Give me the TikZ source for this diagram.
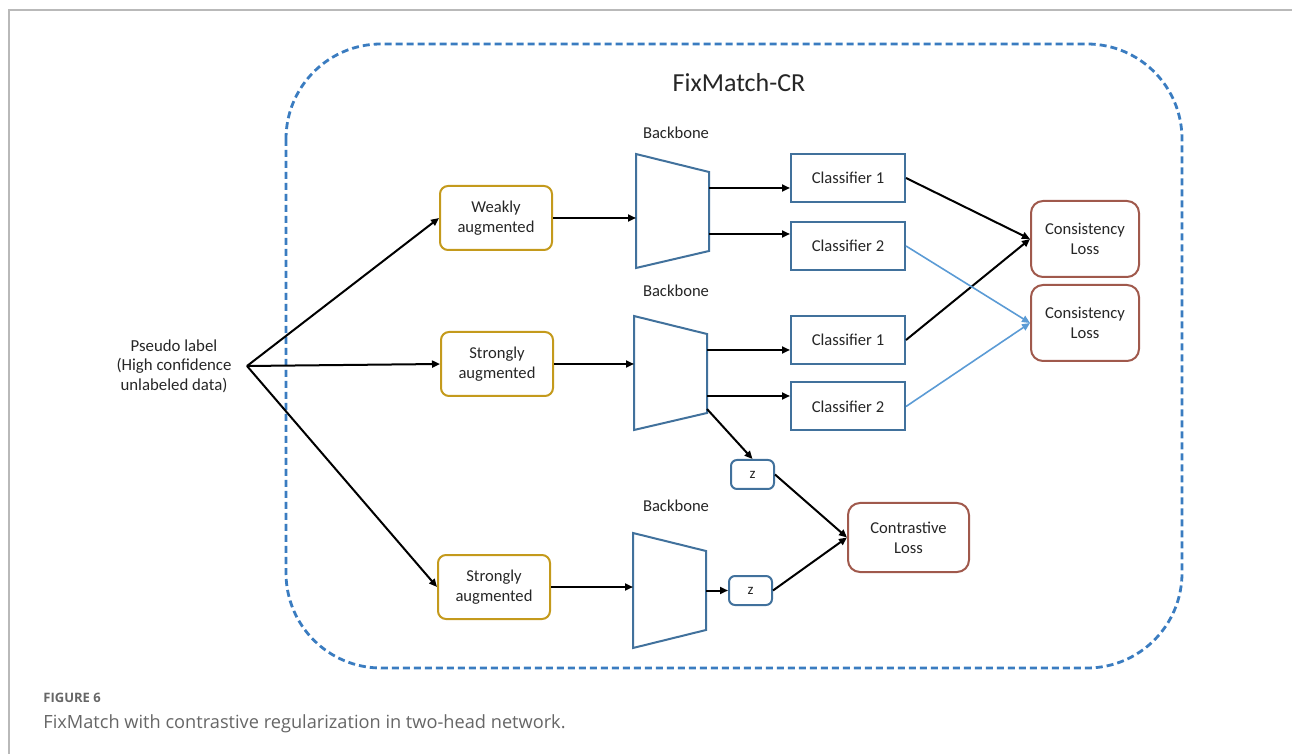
\documentclass[tikz,border=0pt]{standalone}
\usepackage{fontspec}
\setmainfont{Carlito}
\newfontfamily\capfont{Open Sans}
\usetikzlibrary{arrows.meta}
\definecolor{dashblue}{HTML}{3A7CC0}
\definecolor{boxblue}{HTML}{41719C}
\definecolor{augold}{HTML}{C49A1C}
\definecolor{lossbrown}{HTML}{A0594C}
\definecolor{arrblue}{HTML}{5B9BD5}
\definecolor{capgray}{HTML}{666666}

\begin{document}
\begin{tikzpicture}[x=0.5pt,y=-0.5pt,
  txt/.style={font=\fontsize{8.3}{10}\selectfont,align=center,text=black!85},
  augbox/.style={txt,draw=augold,line width=1pt,rounded corners=4pt,minimum width=56pt,minimum height=32pt,inner sep=0pt},
  clsbox/.style={txt,draw=boxblue,line width=1pt,minimum width=57pt,minimum height=24pt,inner sep=0pt},
  lossbox/.style={txt,draw=lossbrown,line width=1pt,rounded corners=6pt,minimum width=54pt,minimum height=38pt,inner sep=0pt},
  zbox/.style={txt,draw=boxblue,line width=1pt,rounded corners=3pt,minimum width=21.5pt,minimum height=14.5pt,inner sep=0pt,font=\fontsize{7.5}{8}\selectfont},
  bbone/.style={draw=boxblue,line width=1pt},
  arr/.style={-{Triangle[length=4pt,width=3.5pt]},line width=1pt,black},
  barr/.style={-{Triangle[length=4pt,width=3.5pt]},line width=0.8pt,arrblue}]
  \useasboundingbox (0,0) rectangle (1292,754);
  \draw [gray!55, line width=0.7pt] (9,754) -- (9,10) -- (1292,10);
  \draw [dashblue, line width=1.4pt, dash pattern=on 3.5pt off 2pt, rounded corners=47.5pt] (286,44) rectangle (1182,668);
  \node (ttl) at (739,83)[font=\fontsize{13}{15}\selectfont,text=black!85]{FixMatch-CR};

  \node (pl) at (174,366)[txt,font=\fontsize{8.4}{9.8}\selectfont]{Pseudo label\\(High confidence\\unlabeled data)};
  \coordinate (src) at (247,366);

  \node (w1) at (496,218)[augbox]{Weakly\\augmented};
  \node (s1) at (497,364)[augbox]{Strongly\\augmented};
  \node (s2) at (494,587)[augbox]{Strongly\\augmented};

  \draw [bbone] (636,154) -- (709,172) -- (709,251) -- (636,268) -- cycle;
  \draw [bbone] (634,316) -- (707,334) -- (707,413) -- (634,430) -- cycle;
  \draw [bbone] (633,533) -- (706,551) -- (706,630) -- (633,648) -- cycle;
  \node (bl1) at (676,133)[txt]{Backbone};
  \node (bl2) at (676,291)[txt]{Backbone};
  \node (bl3) at (676,506)[txt]{Backbone};
  \coordinate (bb1in) at (636,218);
  \coordinate (bb1o1) at (709,188);
  \coordinate (bb1o2) at (709,234);
  \coordinate (bb2in) at (634,364);
  \coordinate (bb2o1) at (707,350);
  \coordinate (bb2o2) at (707,396);
  \coordinate (bb2o3) at (707,409);
  \coordinate (bb3in) at (633,587);
  \coordinate (bb3out) at (706,590.5);

  \node (c1a) at (848,178)[clsbox]{Classifier 1};
  \node (c2a) at (848,246)[clsbox]{Classifier 2};
  \node (c1b) at (848,340)[clsbox]{Classifier 1};
  \node (c2b) at (848,406.5)[clsbox]{Classifier 2};
  \node (cl1) at (1085,239)[lossbox]{Consistency\\Loss};
  \node (cl2) at (1085,323)[lossbox]{Consistency\\Loss};
  \node (z1) at (752.5,474.5)[zbox]{z};
  \node (z2) at (750.5,590.5)[zbox]{z};
  \node (con) at (908.5,537.5)[lossbox,minimum width=60.5pt,minimum height=34.5pt]{Contrastive\\Loss};

  \draw [arr] (src) -- (w1.west);
  \draw [arr] (src) -- (s1.west);
  \draw [arr] (src) -- (s2.west);
  \draw [arr] (w1.east) -- (bb1in);
  \draw [arr] (s1.east) -- (bb2in);
  \draw [arr] (s2.east) -- (bb3in);
  \draw [arr] (bb1o1) -- (bb1o1 -| c1a.west);
  \draw [arr] (bb1o2) -- (bb1o2 -| c2a.west);
  \draw [arr] (bb2o1) -- (bb2o1 -| c1b.west);
  \draw [arr] (bb2o2) -- (bb2o2 -| c2b.west);
  \draw [arr] (c1a.east) -- (cl1.west);
  \draw [arr] (c1b.east) -- (cl1.west);
  \draw [barr] (c2a.east) -- (cl2.west);
  \draw [barr] (c2b.east) -- (cl2.west);
  \draw [arr] (bb2o3) -- (z1.north);
  \draw [arr] (bb3out) -- (z2.west);
  \draw [arr] (z1.east) -- (con.west);
  \draw [arr] (z2.east) -- (con.west);

  \node (fig) at (43,698)[anchor=west,inner sep=0pt,text=capgray,font=\capfont\bfseries\fontsize{6.5}{9}\selectfont]{FIGURE 6};
  \node (cap) at (43,724)[anchor=west,inner sep=0pt,text=capgray,font=\capfont\fontsize{9.1}{11}\selectfont]{FixMatch with contrastive regularization in two-head network.};
\end{tikzpicture}
\end{document}
